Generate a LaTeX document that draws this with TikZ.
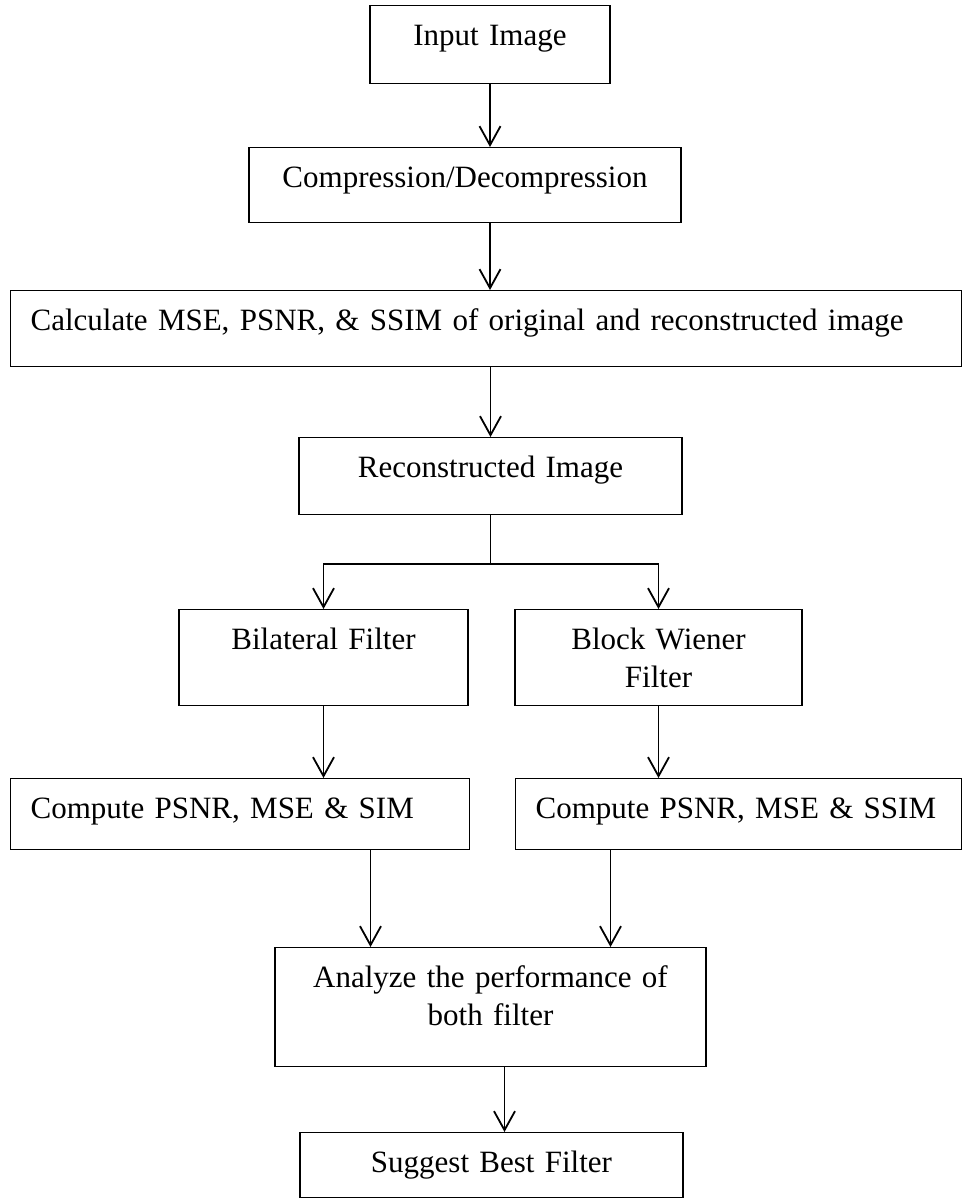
\documentclass[tikz,border=0pt]{standalone}
\usepackage{fontspec}
\setmainfont{Liberation Serif}
\usetikzlibrary{arrows.meta}

\begin{document}
\begin{tikzpicture}[x=1pt,y=1pt,
    box/.style={draw,line width=1.2pt,inner sep=0pt,anchor=north,align=center,
      font=\fontsize{31}{38}\selectfont,text height=40pt},
    leftbox/.style={box,align=left,inner xsep=20pt,anchor=north west},
    arr/.style={line width=1.8pt,-{Straight Barb[length=19pt,width=21pt,line width=1.8pt]}}]
        \useasboundingbox (0,0) rectangle (963,-1199);
        % boxes
        \node[box,text width=240pt,text depth=38pt] (in) at (490,-5) {Input Image};
        \node[box,text width=432pt,text depth=35pt] (cp) at (465,-147) {Compression/Decompression};
        \node[leftbox,text width=911pt,text depth=36pt] (ca) at (10,-290) {Calculate MSE, PSNR, \& SSIM of original and reconstructed image};
        \node[box,text width=383pt,text depth=37pt] (rc) at (490.5,-437) {Reconstructed Image};
        \node[box,text width=289pt,text depth=56pt] (bf) at (323.5,-609) {Bilateral Filter};
        \node[box,text width=287pt,text depth=56pt] (bw) at (658.5,-609) {Block Wiener\\Filter};
        \node[leftbox,text width=419pt,text depth=31pt] (cl) at (10,-778) {Compute PSNR, MSE \& SIM};
        \node[leftbox,text width=406pt,text depth=31pt] (cr) at (515,-778) {Compute PSNR, MSE \& SSIM};
        \node[box,text width=431pt,text depth=79pt] (an) at (490.5,-947) {Analyze the performance of\\both filter};
        \node[box,text width=383pt,text depth=25pt] (sg) at (491.5,-1132) {Suggest Best Filter};
        % arrows
        \draw[arr] (in.south) -- (in.south |- cp.north);
        \draw[arr] (cp.south -| in.south) -- (ca.north -| in.south);
        \draw[arr] (ca.south -| rc.north) -- (rc.north);
        \path (rc.south) ++(0,-49) coordinate (split);
        \draw[line width=1.8pt] (rc.south) -- (split);
        \draw[arr] (split) -| (bf.north);
        \draw[arr] (split) -| (bw.north);
        \draw[arr] (bf.south) -- (bf.south |- cl.north);
        \draw[arr] (bw.south) -- (bw.south |- cr.north);
        \draw[arr] ([xshift=-120pt]an.north |- cl.south) -- ([xshift=-120pt]an.north);
        \draw[arr] ([xshift=120pt]an.north |- cr.south) -- ([xshift=120pt]an.north);
        \draw[arr] ([xshift=14pt]an.south) -- ([xshift=14pt]an.south |- sg.north);
      \end{tikzpicture}
\end{document}
